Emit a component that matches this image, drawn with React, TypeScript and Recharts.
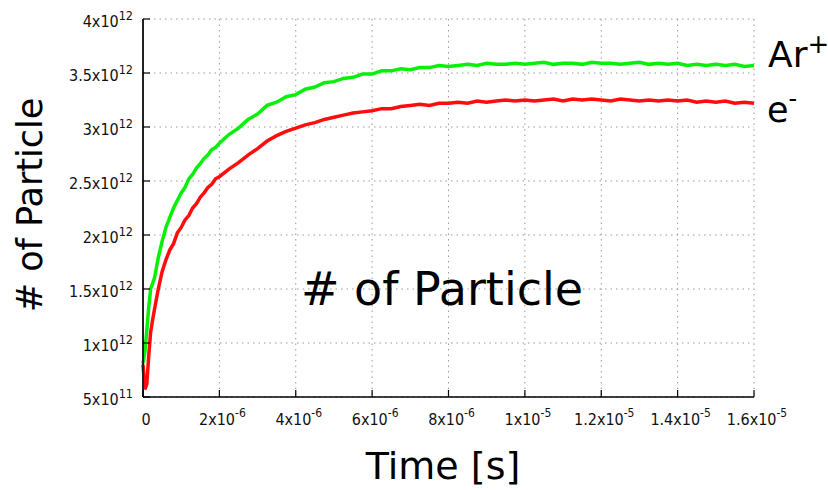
import { LineChart, Line, XAxis, YAxis, CartesianGrid } from "recharts";

// time in microseconds
const timeUs = [
  0, 0.05, 0.1, 0.15, 0.2, 0.25, 0.3, 0.4, 0.5, 0.6, 0.7, 0.8, 0.9, 1.0, 1.1, 1.2,
  1.3, 1.4, 1.5, 1.6, 1.7, 1.8, 1.9, 2.0,
  2.25, 2.5, 2.75, 3.0, 3.25, 3.5, 3.75, 4.0, 4.25, 4.5, 4.75, 5.0, 5.25, 5.5, 5.75, 6.0,
  6.25, 6.5, 6.75, 7.0, 7.25, 7.5, 7.75, 8.0, 8.25, 8.5, 8.75, 9.0, 9.25, 9.5, 9.75, 10.0,
  10.25, 10.5, 10.75, 11.0, 11.25, 11.5, 11.75, 12.0, 12.25, 12.5, 12.75, 13.0, 13.25, 13.5,
  13.75, 14.0, 14.25, 14.5, 14.75, 15.0, 15.25, 15.5, 15.75, 16.0,
];

// particle counts in units of 1e12
const arPlus = [
  0.81, 0.92, 1.12, 1.33, 1.5, 1.55, 1.6, 1.79, 1.94, 2.07, 2.16, 2.25, 2.32, 2.39, 2.44, 2.52,
  2.56, 2.62, 2.66, 2.71, 2.74, 2.79, 2.81, 2.85,
  2.93, 2.99, 3.07, 3.12, 3.2, 3.23, 3.28, 3.3, 3.35, 3.37, 3.41, 3.42, 3.45, 3.46, 3.49, 3.49,
  3.52, 3.52, 3.54, 3.53, 3.55, 3.55, 3.57, 3.56, 3.57, 3.58, 3.57, 3.59, 3.58, 3.58, 3.59, 3.58,
  3.59, 3.6, 3.58, 3.59, 3.59, 3.58, 3.6, 3.59, 3.59, 3.58, 3.59, 3.6, 3.58, 3.59,
  3.58, 3.59, 3.57, 3.58, 3.57, 3.58, 3.57, 3.58, 3.56, 3.57,
];

const electron = [
  0.8, 0.57, 0.62, 0.88, 1.1, 1.21, 1.31, 1.5, 1.66, 1.77, 1.86, 1.92, 2.02, 2.07, 2.14, 2.18,
  2.25, 2.29, 2.35, 2.39, 2.44, 2.47, 2.52, 2.54,
  2.61, 2.67, 2.74, 2.8, 2.87, 2.92, 2.96, 2.99, 3.02, 3.04, 3.07, 3.09, 3.11, 3.13, 3.14, 3.15,
  3.17, 3.17, 3.19, 3.2, 3.21, 3.2, 3.22, 3.22, 3.23, 3.22, 3.24, 3.23, 3.24, 3.25, 3.24, 3.25,
  3.24, 3.25, 3.26, 3.24, 3.26, 3.25, 3.26, 3.25, 3.24, 3.26, 3.25, 3.24, 3.25, 3.24,
  3.25, 3.24, 3.25, 3.23, 3.24, 3.23, 3.24, 3.22, 3.23, 3.22,
];

const xTicks = [0, 2e-6, 4e-6, 6e-6, 8e-6, 1e-5, 1.2e-5, 1.4e-5, 1.6e-5];
const xTickBase = ["0", "2x10", "4x10", "6x10", "8x10", "1x10", "1.2x10", "1.4x10", "1.6x10"];
const xTickExp = ["", "-6", "-6", "-6", "-6", "-5", "-5", "-5", "-5"];

const yTicks = [0.5e12, 1e12, 1.5e12, 2e12, 2.5e12, 3e12, 3.5e12, 4e12];
const yTickBase = ["5x10", "1x10", "1.5x10", "2x10", "2.5x10", "3x10", "3.5x10", "4x10"];
const yTickExp = ["11", "12", "12", "12", "12", "12", "12", "12"];

const data = timeUs.map((t, i) => ({
  t: t * 1e-6,
  ar: arPlus[i] * 1e12,
  e: electron[i] * 1e12,
}));

const TICK_FONT = '"DejaVu Sans Condensed", "DejaVu Sans", sans-serif';
const BIG_FONT = '"DejaVu Sans", sans-serif';
const TICK_LEN = 7;

const findIdx = (arr: number[], v: number) =>
  arr.findIndex((a) => Math.abs(a - v) <= Math.abs(a) * 1e-6 + 1e-20);

function BottomTick(props: any) {
  const { x, y, payload } = props;
  const i = findIdx(xTicks, payload.value);
  return (
    <g>
      <line x1={x} x2={x} y1={y} y2={y - TICK_LEN} stroke="#000" strokeWidth={1.2} />
      <text x={x + 3} y={y + 28} textAnchor="middle" fontFamily={TICK_FONT} fontSize={16} fill="#111">
        {xTickBase[i]}
        {xTickExp[i] ? (
          <tspan dy={-8} fontSize={12}>
            {xTickExp[i]}
          </tspan>
        ) : null}
      </text>
    </g>
  );
}

function TopTick(props: any) {
  const { x, y } = props;
  return <line x1={x} x2={x} y1={y} y2={y + TICK_LEN} stroke="#000" strokeWidth={1.2} />;
}

function LeftTick(props: any) {
  const { x, y, payload } = props;
  const i = findIdx(yTicks, payload.value);
  return (
    <g>
      <line x1={x} x2={x + TICK_LEN} y1={y} y2={y} stroke="#000" strokeWidth={1.2} />
      <text x={x - 10} y={y + 7.5} textAnchor="end" fontFamily={TICK_FONT} fontSize={16} fill="#111">
        {yTickBase[i]}
        <tspan dy={-7} fontSize={12.5}>
          {yTickExp[i]}
        </tspan>
      </text>
    </g>
  );
}

function RightTick(props: any) {
  const { x, y } = props;
  return <line x1={x} x2={x - TICK_LEN} y1={y} y2={y} stroke="#000" strokeWidth={1.2} />;
}

export default function App() {
  return (
    <div style={{ position: "absolute", left: 0, top: 0, width: 828, height: 490, background: "#fff" }}>
      <LineChart
        width={828}
        height={490}
        data={data}
        margin={{ top: 19, right: 74, bottom: 53, left: 0 }}
      >
        <CartesianGrid stroke="#9a9a9a" strokeDasharray="1.5 4" />
        <XAxis
          dataKey="t"
          type="number"
          domain={[0, 1.6e-5]}
          ticks={xTicks}
          interval={0}
          height={40}
          tickSize={0}
          tickMargin={0}
          tickLine={false}
          axisLine={{ stroke: "#000", strokeWidth: 1.5 }}
          tick={<BottomTick />}
        />
        <XAxis
          xAxisId="top"
          orientation="top"
          dataKey="t"
          type="number"
          domain={[0, 1.6e-5]}
          ticks={xTicks}
          interval={0}
          height={0}
          tickSize={0}
          tickMargin={0}
          tickLine={false}
          axisLine={{ stroke: "#000", strokeWidth: 1.5 }}
          tick={<TopTick />}
        />
        <YAxis
          type="number"
          domain={[0.5e12, 4e12]}
          ticks={yTicks}
          interval={0}
          width={143}
          tickSize={0}
          tickMargin={0}
          tickLine={false}
          axisLine={{ stroke: "#222", strokeWidth: 2 }}
          tick={<LeftTick />}
        />
        <YAxis
          yAxisId="right"
          orientation="right"
          type="number"
          domain={[0.5e12, 4e12]}
          ticks={yTicks}
          interval={0}
          width={0}
          tickSize={0}
          tickMargin={0}
          tickLine={false}
          axisLine={{ stroke: "#000", strokeWidth: 1.5 }}
          tick={<RightTick />}
        />
        <Line
          dataKey="ar"
          type="linear"
          stroke="#08f008"
          strokeWidth={3.5}
          dot={false}
          isAnimationActive={false}
        />
        <Line
          dataKey="e"
          type="linear"
          stroke="#ff0d0d"
          strokeWidth={3.5}
          dot={false}
          isAnimationActive={false}
        />
      </LineChart>

      {/* labels */}
      <svg
        width={828}
        height={490}
        style={{ position: "absolute", left: 0, top: 0, pointerEvents: "none" }}
      >
        <text
          transform="translate(42,205) rotate(-90)"
          textAnchor="middle"
          fontFamily={BIG_FONT}
          fontSize={35}
          fill="#000"
        >
          # of Particle
        </text>
        <text x={443} y={479} textAnchor="middle" fontFamily={BIG_FONT} fontSize={38} fill="#000">
          Time [s]
        </text>
        <text x={442} y={305} textAnchor="middle" fontFamily={BIG_FONT} fontSize={46} fill="#000">
          # of Particle
        </text>
        <text x={768} y={67} fontFamily={BIG_FONT} fontSize={36} fill="#000">
          Ar
          <tspan dy={-14} fontSize={26}>
            +
          </tspan>
        </text>
        <text x={767} y={122} fontFamily={BIG_FONT} fontSize={35} fill="#000">
          e
          <tspan dy={-15} fontSize={24}>
            -
          </tspan>
        </text>
      </svg>
    </div>
  );
}
